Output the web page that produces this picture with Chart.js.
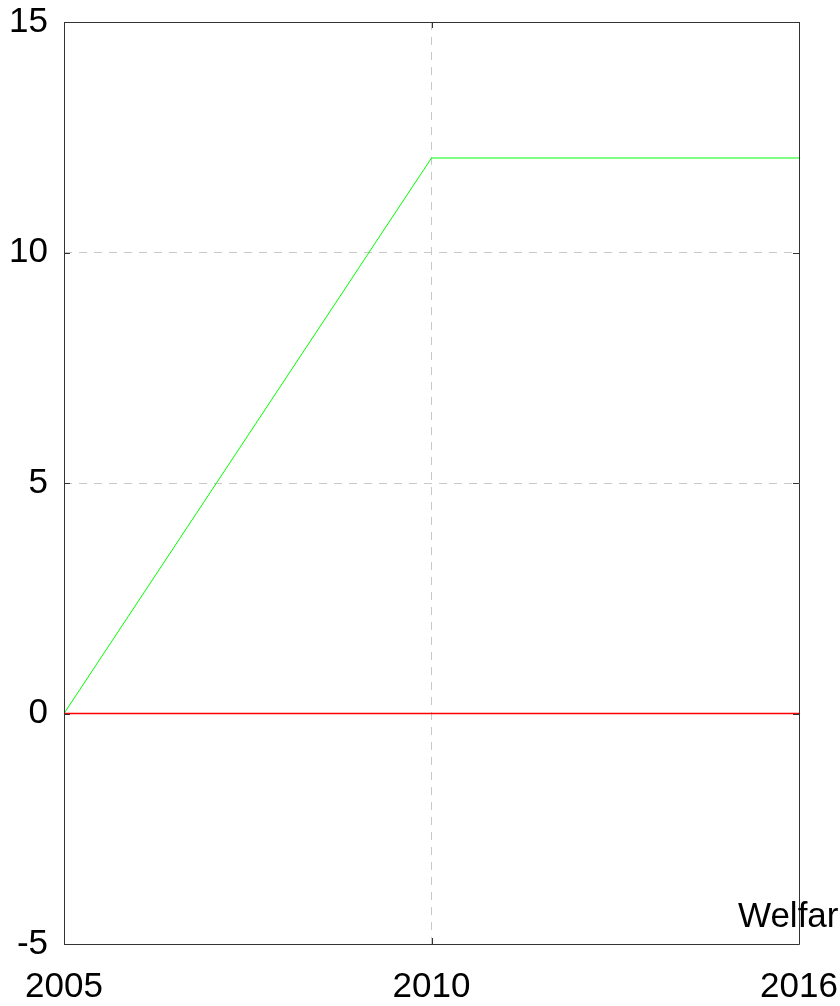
<!DOCTYPE html>
<html>
<head>
<meta charset="utf-8">
<script src="https://cdn.jsdelivr.net/npm/chart.js@4"></script>
<style>
  html, body { margin: 0; padding: 0; background: #fff; }
  #wrap { width: 840px; height: 1006px; }
</style>
</head>
<body>
<div id="wrap"><canvas id="welfareChart" width="840" height="1006"></canvas></div>
<script>
const years = ['2005', '2010', '2016'];
const greenValues = [0, 12.05, 12.05];
const redValues = [0, 0, 0];
const yTicks = [-5, 0, 5, 10, 15];

const FONT = '"Liberation Sans", Arial, sans-serif';

// frame box, inward tick marks and the clipped "Welfare" label
const framePlugin = {
    id: 'frame',
    afterDraw(chart) {
        const c = chart.ctx;
        const a = chart.chartArea;
        const xs = chart.scales.x, ys = chart.scales.y;
        c.save();
        c.strokeStyle = '#333';
        c.lineWidth = 1;
        c.beginPath();
        c.rect(Math.round(a.left) + 0.5, Math.round(a.top) + 0.5,
               Math.round(a.right - a.left), Math.round(a.bottom - a.top));
        yTicks.forEach(v => {
            const y = Math.round(ys.getPixelForValue(v)) + 0.5;
            c.moveTo(a.left, y); c.lineTo(a.left + 6, y);
            c.moveTo(a.right, y); c.lineTo(a.right - 6, y);
        });
        years.forEach((_, i) => {
            const x = Math.round(xs.getPixelForValue(i)) + 0.5;
            c.moveTo(x, a.bottom); c.lineTo(x, a.bottom - 6);
            c.moveTo(x, a.top); c.lineTo(x, a.top + 6);
        });
        c.stroke();
        c.fillStyle = '#000';
        c.font = '35px ' + FONT;
        c.textAlign = 'left';
        c.textBaseline = 'alphabetic';
        c.fillText('Welfare', 738, 927);
        c.restore();
    }
};

new Chart(document.getElementById('welfareChart').getContext('2d'), {
    type: 'line',
    data: {
        labels: years,
        datasets: [
            {
                label: 'green',
                data: greenValues,
                borderColor: '#00ff00',
                borderWidth: 1,
                pointRadius: 0,
                tension: 0
            },
            {
                label: 'red',
                data: redValues,
                borderColor: '#ff0000',
                borderWidth: 1.4,
                pointRadius: 0,
                tension: 0
            }
        ]
    },
    options: {
        responsive: false,
        animation: false,
        layout: { padding: { top: 22, right: 41, left: 0, bottom: 0 } },
        plugins: {
            legend: { display: false },
            tooltip: { enabled: false }
        },
        scales: {
            x: {
                type: 'category',
                offset: false,
                afterFit: s => {
                    s.height = 62;
                    s.paddingLeft = 0;
                    s.paddingRight = 0;
                },
                grid: {
                    color: '#c8c8c8',
                    drawTicks: false,
                    tickLength: 0
                },
                border: { display: false, dash: [8, 7] },
                ticks: {
                    color: '#000',
                    font: { family: FONT, size: 35 },
                    padding: 22,
                    maxRotation: 0,
                    autoSkip: false
                }
            },
            y: {
                min: -5,
                max: 15,
                afterFit: s => {
                    s.width = 64;
                    s.paddingTop = 0;
                    s.paddingBottom = 0;
                },
                afterBuildTicks: s => { s.ticks = yTicks.map(v => ({ value: v })); },
                grid: {
                    color: '#c8c8c8',
                    drawTicks: false,
                    tickLength: 0
                },
                border: { display: false, dash: [8, 7] },
                ticks: {
                    color: '#000',
                    font: { family: FONT, size: 35 },
                    padding: 16
                }
            }
        }
    },
    plugins: [framePlugin]
});
</script>
</body>
</html>
